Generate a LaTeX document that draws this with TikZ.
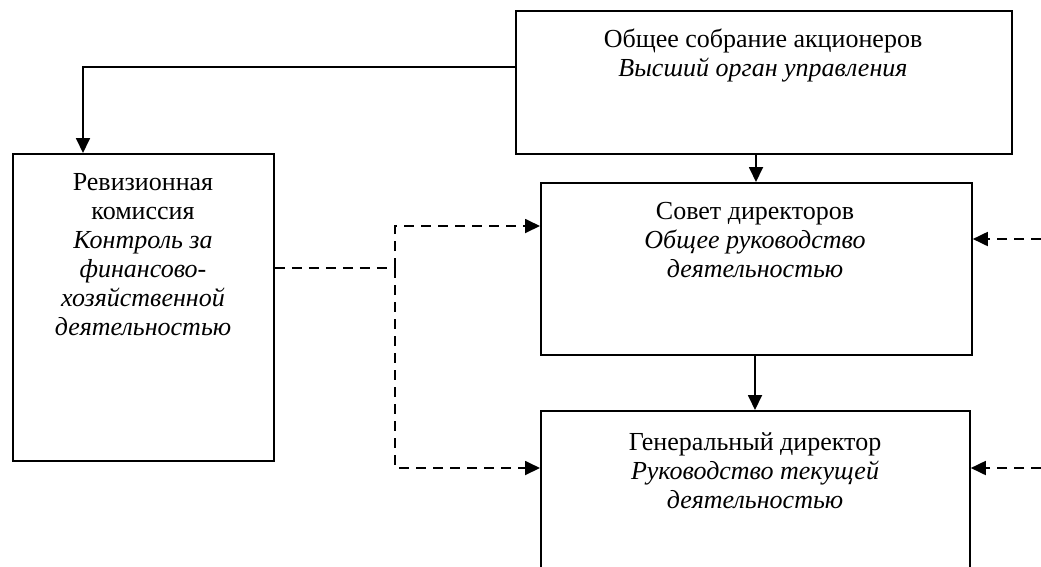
\documentclass[tikz,border=0pt]{standalone}
\usepackage{fontspec}
\setmainfont{Liberation Serif}
\usetikzlibrary{arrows.meta}
\begin{document}
\begin{tikzpicture}[x=1pt,y=-1pt,
  box/.style={draw,line width=1.8pt,rectangle,inner sep=0pt,anchor=north west},
  lbl/.style={anchor=north,inner sep=0pt,align=center,font=\fontsize{26}{29}\selectfont},
  conn/.style={line width=1.8pt,-{Triangle[length=15pt,width=14pt]}},
  dconn/.style={line width=1.8pt,dash pattern=on 10pt off 7pt,-{Triangle[length=15pt,width=14pt]}},
  dline/.style={line width=1.8pt,dash pattern=on 10pt off 7pt}]
\useasboundingbox (0,0) rectangle (1041,566);
\node[box,minimum width=496pt,minimum height=143pt] (gsa) at (515,10) {};
\node[box,minimum width=261pt,minimum height=307pt] (rev) at (12,153) {};
\node[box,minimum width=431pt,minimum height=172pt] (sov) at (540,182) {};
\node[box,minimum width=429pt,minimum height=200pt] (gen) at (540,410) {};
\node[lbl] (tgsa) at (763,29) {Общее собрание акционеров\\\textit{Высший орган управления}};
\node[lbl] (trev) at (143,173) {Ревизионная\\комиссия\\\textit{Контроль за}\\\textit{финансово-}\\\textit{хозяйственной}\\\textit{деятельностью}};
\node[lbl] (tsov) at (755,202) {Совет директоров\\\textit{Общее руководство}\\\textit{деятельностью}};
\node[lbl] (tgen) at (755,432) {Генеральный директор\\\textit{Руководство текущей}\\\textit{деятельностью}};
\coordinate (c1) at (83,67);
\draw[conn] (gsa.west |- c1) -| (rev.north -| c1);
\draw[conn] (gsa.south -| 756,0) -- (sov.north -| 756,0);
\draw[conn] (sov.south -| 755,0) -- (gen.north -| 755,0);
\coordinate (j) at (395,268);
\coordinate (r1) at (1041,239);
\coordinate (r2) at (1041,468);
\draw[dline] (rev.east |- j) -- (j);
\draw[dconn] (j) -- (395,226) -- (sov.west |- 0,226);
\draw[dconn] (j) -- (395,468) -- (gen.west |- 0,468);
\draw[dconn] (r1) -- (sov.east |- r1);
\draw[dconn] (r2) -- (gen.east |- r2);
\end{tikzpicture}
\end{document}
